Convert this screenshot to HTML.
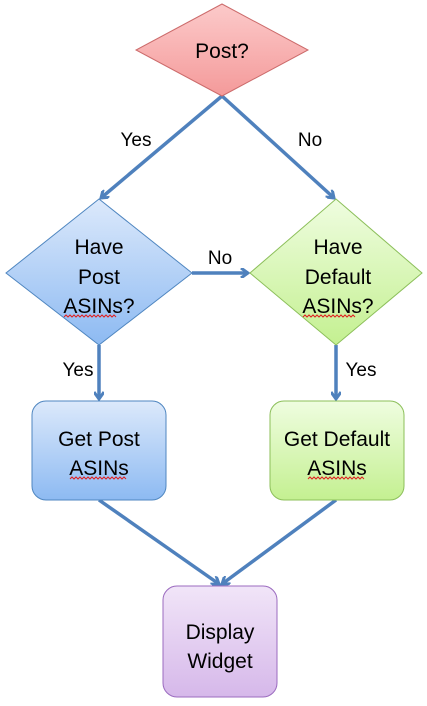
<!DOCTYPE html>
<html><head><meta charset="utf-8"><style>
html,body{margin:0;padding:0;background:#fff;}
svg{display:block;}
text{font-family:"Liberation Sans",sans-serif;font-size:19px;fill:#000;text-anchor:middle;}
text.n{font-size:21px;}
</style></head><body>
<svg width="427" height="706" viewBox="0 0 427 706" xmlns="http://www.w3.org/2000/svg">
<defs>
<linearGradient id="r" x1="0" y1="0" x2="0" y2="1"><stop offset="0" stop-color="#fccaca"/><stop offset="1" stop-color="#f49a9a"/></linearGradient>
<linearGradient id="b" x1="0" y1="0" x2="0" y2="1"><stop offset="0" stop-color="#dce9fb"/><stop offset="1" stop-color="#8dbaf2"/></linearGradient>
<linearGradient id="g" x1="0" y1="0" x2="0" y2="1"><stop offset="0" stop-color="#effde0"/><stop offset="1" stop-color="#c4f091"/></linearGradient>
<linearGradient id="p" x1="0" y1="0" x2="0" y2="1"><stop offset="0" stop-color="#f1e5f8"/><stop offset="1" stop-color="#d6b8ea"/></linearGradient>
<marker id="a" markerWidth="10" markerHeight="10" refX="8" refY="5" orient="auto" markerUnits="userSpaceOnUse"><path d="M1,0 L8,5 L1,10" fill="none" stroke="#4f81bd" stroke-width="3"/></marker>
</defs>
<g stroke="#4f81bd" stroke-width="3.5" fill="none" marker-end="url(#a)">
<line x1="222" y1="96" x2="101" y2="198"/>
<line x1="222" y1="96" x2="334" y2="198"/>
<line x1="192" y1="273" x2="248" y2="273"/>
<line x1="99" y1="345" x2="99" y2="399"/>
<line x1="336" y1="345" x2="336" y2="399"/>
<line x1="99" y1="500" x2="219" y2="584"/>
<line x1="336" y1="500" x2="222" y2="584"/>
</g>
<polygon points="222,4 308,50 222,96 136,50" fill="url(#r)" stroke="#cc6b6b" stroke-width="1"/>
<polygon points="99,199 192,273 99,345 6,273" fill="url(#b)" stroke="#4f86c0" stroke-width="1"/>
<polygon points="336,199 422,273 336,345 250,273" fill="url(#g)" stroke="#8cbf5a" stroke-width="1"/>
<rect x="32" y="401" width="134" height="99" rx="14" fill="url(#b)" stroke="#4f86c0"/>
<rect x="270" y="401" width="134" height="99" rx="14" fill="url(#g)" stroke="#8cbf5a"/>
<rect x="163" y="586" width="114" height="111" rx="14" fill="url(#p)" stroke="#9b6bbf"/>
<text class="n" x="222" y="58">Post?</text>
<text x="136" y="146">Yes</text>
<text x="310" y="146">No</text>
<text x="220" y="264">No</text>
<text x="78" y="376">Yes</text>
<text x="361" y="376">Yes</text>
<text class="n" x="99" y="254">Have</text>
<text class="n" x="99" y="284">Post</text>
<text class="n" x="99" y="313">ASINs?</text>
<text class="n" x="338" y="254">Have</text>
<text class="n" x="338" y="284">Default</text>
<text class="n" x="338" y="313">ASINs?</text>
<text class="n" x="99" y="446">Get Post</text>
<text class="n" x="99" y="475">ASINs</text>
<text class="n" x="337" y="446">Get Default</text>
<text class="n" x="337" y="475">ASINs</text>
<text class="n" x="220" y="639">Display</text>
<text class="n" x="220" y="668">Widget</text>
<g stroke="#e02020" stroke-width="1" fill="none">
<path d="M64,317 l2,-2 l2,2 l2,-2 l2,2 l2,-2 l2,2 l2,-2 l2,2 l2,-2 l2,2 l2,-2 l2,2 l2,-2 l2,2 l2,-2 l2,2 l2,-2 l2,2 l2,-2 l2,2 l2,-2 l2,2 l2,-2 l2,2 l2,-2 l2,2"/>
<path d="M303,317 l2,-2 l2,2 l2,-2 l2,2 l2,-2 l2,2 l2,-2 l2,2 l2,-2 l2,2 l2,-2 l2,2 l2,-2 l2,2 l2,-2 l2,2 l2,-2 l2,2 l2,-2 l2,2 l2,-2 l2,2 l2,-2 l2,2 l2,-2 l2,2"/>
<path d="M70,479 l2,-2 l2,2 l2,-2 l2,2 l2,-2 l2,2 l2,-2 l2,2 l2,-2 l2,2 l2,-2 l2,2 l2,-2 l2,2 l2,-2 l2,2 l2,-2 l2,2 l2,-2 l2,2 l2,-2 l2,2 l2,-2 l2,2 l2,-2 l2,2 l2,-2 l2,2"/>
<path d="M308,479 l2,-2 l2,2 l2,-2 l2,2 l2,-2 l2,2 l2,-2 l2,2 l2,-2 l2,2 l2,-2 l2,2 l2,-2 l2,2 l2,-2 l2,2 l2,-2 l2,2 l2,-2 l2,2 l2,-2 l2,2 l2,-2 l2,2 l2,-2 l2,2 l2,-2 l2,2"/>
</g>
</svg>
</body></html>
